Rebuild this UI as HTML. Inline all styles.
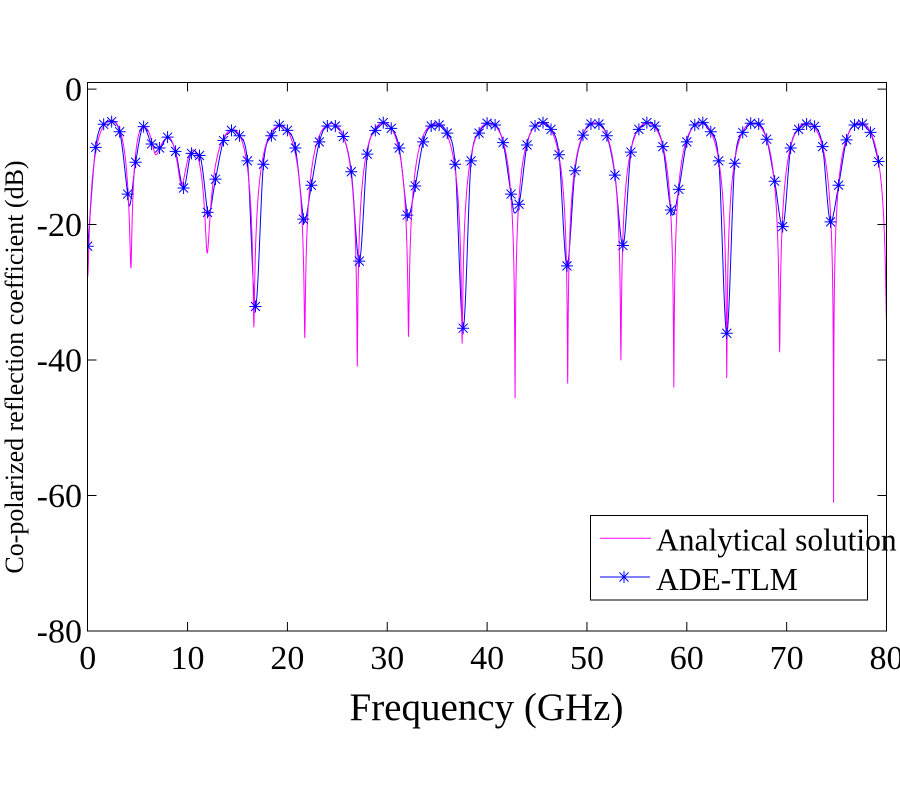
<!DOCTYPE html>
<html><head><meta charset="utf-8"><style>
html,body{margin:0;padding:0;background:#fff;}
svg{display:block;}
text{font-family:"Liberation Serif","Times New Roman",serif;fill:#000;}
</style></head><body>
<svg id="s" width="900" height="800" viewBox="0 0 900 800" xmlns="http://www.w3.org/2000/svg">
<rect width="900" height="800" fill="#fff"/>
<defs><clipPath id="c"><rect x="87.5" y="82" width="799.5" height="549.5"/></clipPath></defs>
<g id="plot" clip-path="url(#c)"></g>
<rect x="87.5" y="82.5" width="799" height="548.5" fill="none" stroke="#000" stroke-width="1"/>
<g stroke="#000" stroke-width="1" fill="none">
<path d="M187.55,631V622M287.4,631V622M387.25,631V622M487.1,631V622M586.95,631V622M686.8,631V622M786.65,631V622"/>
<path d="M187.55,82.5V91.5M287.4,82.5V91.5M387.25,82.5V91.5M487.1,82.5V91.5M586.95,82.5V91.5M686.8,82.5V91.5M786.65,82.5V91.5"/>
<path d="M87.5,89.07H96.5M87.5,224.55H96.5M87.5,360.03H96.5M87.5,495.51H96.5"/>
<path d="M886.5,89.07H877.5M886.5,224.55H877.5M886.5,360.03H877.5M886.5,495.51H877.5"/>
</g>
<g font-size="34" text-anchor="middle">
<text x="87.7" y="669">0</text>
<text x="187.55" y="669">10</text>
<text x="287.4" y="669">20</text>
<text x="387.25" y="669">30</text>
<text x="487.1" y="669">40</text>
<text x="586.95" y="669">50</text>
<text x="686.8" y="669">60</text>
<text x="786.65" y="669">70</text>
<text x="886.5" y="669">80</text>
</g>
<g font-size="34" text-anchor="end">
<text x="82" y="100.6">0</text>
<text x="82" y="236">-20</text>
<text x="82" y="371.5">-40</text>
<text x="82" y="507">-60</text>
<text x="82" y="642.5">-80</text>
</g>
<text x="486.5" y="720" font-size="39" text-anchor="middle">Frequency (GHz)</text>
<text transform="translate(23,367) rotate(-90)" font-size="26" text-anchor="middle">Co-polarized reflection coefficient (dB)</text>
<g id="legend">
<rect x="590.5" y="515.5" width="277" height="84.5" fill="#fff" stroke="#000" stroke-width="1"/>
<path d="M600,538.3H651" stroke="#ff00ff" stroke-width="1"/>
<path d="M600,577H650" stroke="#0000ff" stroke-width="1"/>
<path d="M618,577h12M624,571v12M619.5,572.5l9,9M619.5,581.5l9,-9" stroke="#0000ff" stroke-width="1"/>
<text x="656" y="550.5" font-size="31.5">Analytical solution</text>
<text x="656" y="590" font-size="31.5">ADE-TLM</text>
</g>
</svg>
<script>
(function(){
var NS="http://www.w3.org/2000/svg";
var X=function(f){return 87.7+9.985*f;}, Y=function(d){return 82.3+(1-d)*6.774;};
var E=[[0,-27.7,0],[2.4,-4.6,1],[4.33,-26.4,0],[5.57,-5.55,1],[6.84,-9.7,0],[8.07,-7.2,1],[9.4,-14.2,0],[10.57,-9.0,1],[11.97,-24.2,0],[14.57,-6.0,1],[16.64,-35.1,0],[19.25,-5.45,1],[21.74,-36.7,0],[24.4,-5.1,1],[27.0,-40.9,0],[29.6,-5.0,1],[32.13,-36.5,0],[34.8,-5.1,1],[37.5,-37.5,0],[40.2,-5.0,1],[42.8,-45.6,0],[45.45,-5.0,1],[48.07,-43.4,0],[50.8,-5.0,1],[53.4,-40.0,0],[56.05,-5.0,1],[58.7,-44.0,0],[61.35,-5.0,1],[64.0,-42.6,0],[66.65,-5.0,1],[69.3,-38.8,0],[72.0,-5.0,1],[74.7,-61.0,0],[77.3,-5.0,1],[80.0,-34.1,0]];
function mag(f){
  var i=0; while(i<E.length-2 && f>E[i+1][0]) i++;
  var a=E[i], b=E[i+1];
  var n=a[2]===0?a:b, p=a[2]===0?b:a;
  var u=Math.abs(f-n[0])/Math.abs(p[0]-n[0]); if(u>1)u=1;
  var s=Math.pow(Math.sin(Math.PI*u/2),2);
  var P=Math.pow(10,p[1]/10), F=P/(1-P), eps=Math.pow(10,n[1]/10);
  var pw=F*s/(1+F*s)+eps*(1-s);
  return 10*Math.log10(pw);
}
var fs=[];
for(var k=0;k<=4000;k++) fs.push(k*0.02);
for(var j=0;j<E.length;j++) if(E[j][2]===0) fs.push(E[j][0]);
fs.sort(function(a,b){return a-b;});
var pts=[], last=-1;
for(var q=0;q<fs.length;q++){ var f=fs[q]; if(f-last<1e-6) continue; last=f; pts.push(X(f).toFixed(2)+","+Y(mag(f)).toFixed(2)); }
var mp="M"+pts.join("L");

var M=[-23.2,-8.6,-5.2,-4.8,-6.3,-15.5,-10.8,-5.55,-8.1,-8.7,
-7.1,-9.2,-14.6,-9.5,-9.8,-18.2,-13.3,-7.6,-6.1,-6.9,
-10.6,-32.1,-11.1,-6.9,-5.35,-6.1,-8.7,-19.2,-14.2,-7.8,
-5.45,-5.45,-7.0,-12.2,-25.4,-9.6,-6.1,-4.95,-5.8,-8.7,
-18.6,-14.3,-7.8,-5.45,-5.3,-6.5,-11.1,-35.3,-10.6,-6.5,
-5.05,-5.3,-7.9,-15.5,-17.0,-8.25,-5.45,-4.95,-5.95,-9.7,
-26.1,-12.05,-6.8,-5.15,-5.15,-6.9,-12.7,-23.1,-9.3,-5.95,
-4.95,-5.45,-8.5,-17.85,-14.8,-7.8,-5.3,-4.95,-6.3,-10.6,
-36.05,-10.95,-6.4,-5.05,-5.15,-7.4,-13.6,-20.3,-8.7,-5.95,
-5.15,-5.5,-8.5,-19.6,-14.2,-7.5,-5.3,-5.15,-6.4,-10.7];
var K=[];
for(var i=0;i<M.length;i++) K.push([0.8*i,M[i]]);
var extra=[[4.15,-17.3],[12.05,-18.8],[21.65,-19.8],[32.05,-19.0],[42.75,-18.3],[58.6,-18.6]];
K=K.concat(extra); K.sort(function(a,b){return a[0]-b[0];});
var xs=K.map(function(k){return k[0];}), ys=K.map(function(k){return k[1];});
var n=xs.length, d=[], m=new Array(n);
for(i=0;i<n-1;i++) d[i]=(ys[i+1]-ys[i])/(xs[i+1]-xs[i]);
m[0]=d[0]; m[n-1]=d[n-2];
for(i=1;i<n-1;i++){ if(d[i-1]*d[i]<=0) m[i]=0; else m[i]=(d[i-1]+d[i])/2; }
for(i=0;i<n-1;i++){ if(d[i]===0){m[i]=0;m[i+1]=0;continue;} var aa=m[i]/d[i], bb=m[i+1]/d[i]; var h=aa*aa+bb*bb; if(h>9){var t=3/Math.sqrt(h); m[i]=t*aa*d[i]; m[i+1]=t*bb*d[i];} }
var bp=[];
for(i=0;i<n-1;i++){
  var x0=xs[i], x1=xs[i+1], hh=x1-x0, steps=Math.max(2,Math.ceil(hh/0.05));
  for(var s=0;s<steps;s++){
    var tt=s/steps, t2=tt*tt, t3=t2*tt;
    var v=(2*t3-3*t2+1)*ys[i]+(t3-2*t2+tt)*hh*m[i]+(-2*t3+3*t2)*ys[i+1]+(t3-t2)*hh*m[i+1];
    bp.push(X(x0+tt*hh).toFixed(2)+","+Y(v).toFixed(2));
  }
}
bp.push(X(xs[n-1]).toFixed(2)+","+Y(ys[n-1]).toFixed(2));
var g=document.getElementById("plot");
function add(dd,col){var p=document.createElementNS(NS,"path");p.setAttribute("d",dd);p.setAttribute("fill","none");p.setAttribute("stroke",col);p.setAttribute("stroke-width","1");p.setAttribute("stroke-linejoin","round");g.appendChild(p);}
add("M"+bp.join("L"),"#0000ff");
add(mp,"#ff00ff");
var md="";
for(i=0;i<M.length;i++){
  var x=X(0.8*i), y=Y(M[i]);
  md+="M"+(x-6).toFixed(2)+","+y.toFixed(2)+"h12M"+x.toFixed(2)+","+(y-6).toFixed(2)+"v12M"+(x-4.5).toFixed(2)+","+(y-4.5).toFixed(2)+"l9,9M"+(x-4.5).toFixed(2)+","+(y+4.5).toFixed(2)+"l9,-9";
}
add(md,"#0000ff");
})();
</script>
</body></html>
